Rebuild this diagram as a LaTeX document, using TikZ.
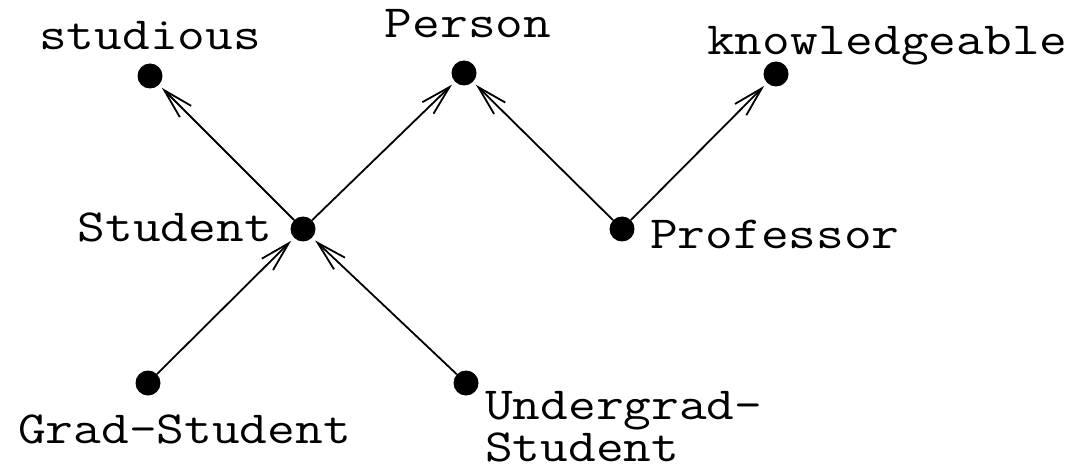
\documentclass[tikz,border=0pt]{standalone}
\usepackage{fontspec}
\setmonofont[FakeStretch=1.17]{Latin Modern Mono}
\usetikzlibrary{arrows.meta}
\begin{document}
\begin{tikzpicture}[x=1pt,y=-1pt,
  dot/.style={circle,fill=black,minimum size=25pt,inner sep=0pt},
  lbl/.style={font=\ttfamily\fontsize{46}{42}\selectfont,inner sep=0pt},
  isa/.style={line width=1.8pt,-{Straight Barb[length=30pt,width=16pt,line width=1.8pt]},shorten >=4pt}]
\useasboundingbox (0,0) rectangle (1075,470);
\node[dot] (stu) at (150,76) {};
\node[dot] (per) at (464,73) {};
\node[dot] (kno) at (776,74) {};
\node[dot] (std) at (303,229) {};
\node[dot] (pro) at (622,229) {};
\node[dot] (gra) at (148,383) {};
\node[dot] (und) at (466,383) {};
\draw[isa] (std) -- (stu);
\draw[isa] (std) -- (per);
\draw[isa] (pro) -- (per);
\draw[isa] (pro) -- (kno);
\draw[isa] (gra) -- (std);
\draw[isa] (und) -- (std);
\node[lbl,anchor=base] (lstu) at (150,50) {studious};
\node[lbl,anchor=base] (lper) at (468,38) {Person};
\node[lbl,anchor=base west] (lkno) at (707,55) {knowledgeable};
\node[lbl,anchor=base east] (lstd) at (272,241) {Student};
\node[lbl,anchor=base west] (lpro) at (650,248) {Professor};
\node[lbl,anchor=base west] (lgra) at (18,443) {Grad-Student};
\node[lbl,anchor=base west,align=left] (lund) at (485,461) {Undergrad-\\Student};
\end{tikzpicture}
\end{document}
